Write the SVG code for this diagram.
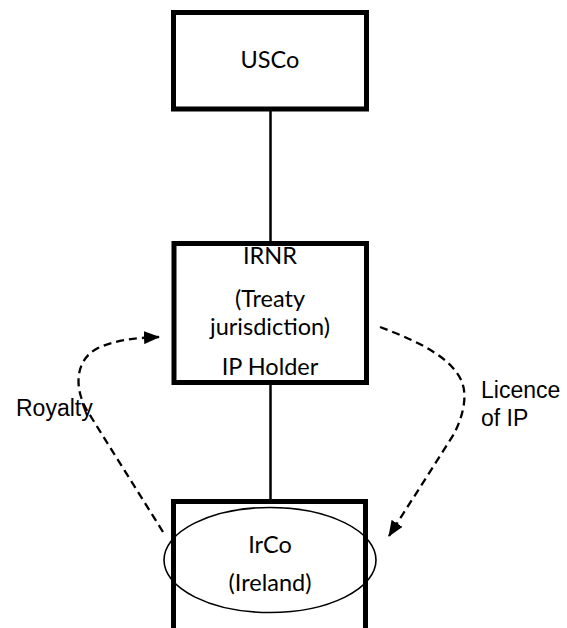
<svg xmlns="http://www.w3.org/2000/svg" width="567" height="628" viewBox="0 0 567 628">
<defs>
<style>
.box{fill:#fff;stroke:#000;stroke-width:5}
.t{font-family:Lato,"Open Sans",sans-serif;font-size:23.5px;fill:#000;text-anchor:middle}
.lbl{font-family:"Liberation Sans",Arial,sans-serif;font-size:23px;fill:#000}
.solid{stroke:#000;stroke-width:2.5;fill:none}
.dash{stroke:#000;stroke-width:2.3;fill:none;stroke-dasharray:8 5}
</style>
<marker id="ah" viewBox="0 0 16 13" refX="15" refY="6.5" markerWidth="16" markerHeight="13" markerUnits="userSpaceOnUse" orient="auto">
<path d="M0,0 L16,6.5 L0,13 Z" fill="#000"/>
</marker>
</defs>
<g id="connectors">
<line class="solid" x1="270.5" y1="110" x2="270.5" y2="243"/>
<line class="solid" x1="270.5" y1="384" x2="270.5" y2="501"/>
<path id="royalty" class="dash" d="M163,532 L88,412 C74,390 74,360 98,348 C115,340 135,338 159,337" marker-end="url(#ah)"/>
<path id="licence" class="dash" d="M380,327 C420,342 452,358 462,382 C468,398 462,418 454,434 L389,536" marker-end="url(#ah)"/>
</g>
<g id="USCo">
<rect class="box" x="173.5" y="12.5" width="193" height="96.5"/>
<text class="t" x="270" y="68">USCo</text>
</g>
<g id="IRNR">
<rect class="box" x="174" y="243.5" width="192.5" height="139"/>
<text class="t" x="270" y="264">IRNR</text>
<text class="t" x="270" y="306.5">(Treaty</text>
<text class="t" x="270" y="335">jurisdiction)</text>
<text class="t" x="270" y="375">IP Holder</text>
</g>
<g id="IrCo">
<path class="box" d="M173.5,628 L173.5,501.5 L365.5,501.5 L365.5,628" fill="#fff"/>
<ellipse cx="270" cy="560" rx="106" ry="52.5" fill="none" stroke="#000" stroke-width="1.6"/>
<text class="t" x="270" y="553">IrCo</text>
<text class="t" x="270" y="591">(Ireland)</text>
</g>
<g id="labels">
<text class="lbl" x="16" y="416">Royalty</text>
<text class="lbl" x="481" y="398">Licence</text>
<text class="lbl" x="481" y="426">of IP</text>
</g>
</svg>
